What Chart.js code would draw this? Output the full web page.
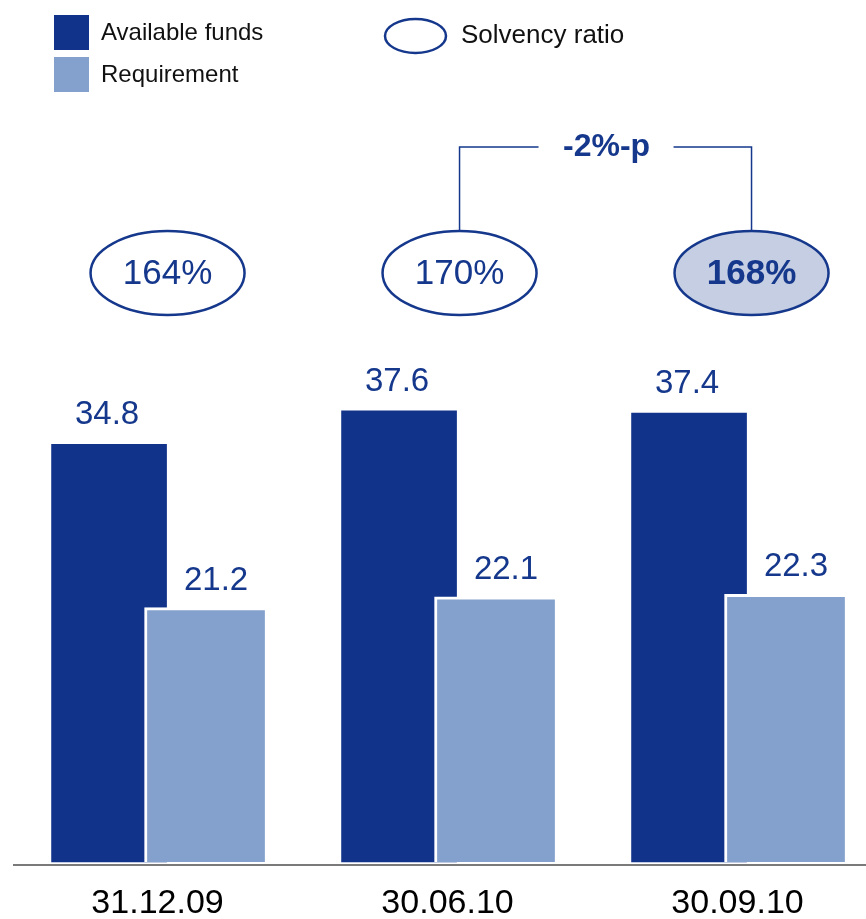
<!DOCTYPE html>
<html>
<head>
<meta charset="utf-8">
<script src="https://cdn.jsdelivr.net/npm/chart.js@4.4.1/dist/chart.umd.min.js"></script>
<style>
  html, body { margin: 0; padding: 0; background: #fff; }
  canvas { display: block; }
</style>
</head>
<body>
<canvas id="chart" width="866" height="919"></canvas>
<script>
const categories = ['31.12.09', '30.06.10', '30.09.10'];
const availableFunds = [34.8, 37.6, 37.4];
const requirement = [21.2, 22.1, 22.3];
const solvencyRatio = [164, 170, 168];
const ratioChange = '-2%-p';

const DARK = '#12338a';
const LIGHT = '#84a0cc';
const INK = '#15388c';
const HIGHLIGHT = '#c5cee2';
const FONT = '"Liberation Sans", Arial, sans-serif';

// both bars of a date sit either side of the tick and overlap a bit
const SHIFT = 0.1672;

const legendBox = {
    id: 'legendBox',
    afterDraw(chart) {
        const { ctx, data } = chart;
        ctx.save();
        ctx.font = '24px ' + FONT;
        ctx.textBaseline = 'middle';
        data.datasets.forEach((ds, i) => {
            const top = 15 + i * 42;
            ctx.fillStyle = ds.backgroundColor;
            ctx.fillRect(54, top, 35, 35);
            ctx.fillStyle = '#111';
            ctx.fillText(ds.label, 101, top + 18);
        });
        ctx.beginPath();
        ctx.ellipse(415.5, 36, 30.5, 17, 0, 0, Math.PI * 2);
        ctx.lineWidth = 2.5;
        ctx.strokeStyle = INK;
        ctx.stroke();
        ctx.font = '26px ' + FONT;
        ctx.fillText('Solvency ratio', 461, 36);
        ctx.restore();
    }
};

const barValues = {
    id: 'barValues',
    afterDatasetsDraw(chart) {
        const { ctx } = chart;
        ctx.save();
        ctx.font = '33px ' + FONT;
        ctx.fillStyle = INK;
        ctx.textAlign = 'center';
        ctx.textBaseline = 'alphabetic';
        chart.data.datasets.forEach((ds, d) => {
            const meta = chart.getDatasetMeta(d);
            const dx = d === 0 ? -2 : 10;
            const gap = d === 0 ? 20 : 18;
            meta.data.forEach((bar, i) => {
                ctx.fillText(ds.data[i].y.toFixed(1), bar.x + dx, bar.y - gap);
            });
        });
        ctx.restore();
    }
};

const solvency = {
    id: 'solvency',
    afterDraw(chart) {
        const { ctx, scales: { x } } = chart;
        const cy = 273;
        const last = solvencyRatio.length - 1;
        const cx = solvencyRatio.map((v, i) => x.getPixelForValue(i) + 10 + i * 2);
        ctx.save();
        ctx.lineWidth = 2.5;
        ctx.strokeStyle = INK;
        ctx.textAlign = 'center';
        ctx.textBaseline = 'middle';
        solvencyRatio.forEach((v, i) => {
            ctx.beginPath();
            ctx.ellipse(cx[i], cy, 77, 42, 0, 0, Math.PI * 2);
            ctx.fillStyle = i === last ? HIGHLIGHT : '#fff';
            ctx.fill();
            ctx.stroke();
            ctx.fillStyle = INK;
            ctx.font = (i === last ? 'bold ' : '') + '35px ' + FONT;
            ctx.fillText(v + '%', cx[i], cy + 1);
        });

        // bracket between the last two ratios
        const a = cx[last - 1], b = cx[last];
        const mid = (a + b) / 2, top = 147, bottom = cy - 42;
        ctx.lineWidth = 1.5;
        ctx.beginPath();
        ctx.moveTo(a, bottom);
        ctx.lineTo(a, top);
        ctx.lineTo(mid - 67, top);
        ctx.moveTo(mid + 68, top);
        ctx.lineTo(b, top);
        ctx.lineTo(b, bottom);
        ctx.stroke();
        ctx.font = 'bold 32px ' + FONT;
        ctx.fillText(ratioChange, mid + 1, top);
        ctx.restore();
    }
};

new Chart(document.getElementById('chart'), {
    type: 'bar',
    data: {
        datasets: [
            {
                label: 'Available funds',
                data: availableFunds.map((v, i) => ({ x: i - SHIFT, y: v })),
                backgroundColor: DARK,
                barThickness: 115,
                grouped: false,
                order: 1
            },
            {
                label: 'Requirement',
                data: requirement.map((v, i) => ({ x: i + SHIFT, y: v })),
                backgroundColor: LIGHT,
                borderColor: '#fff',
                borderWidth: 3,
                barThickness: 123,
                grouped: false,
                order: 0
            }
        ]
    },
    options: {
        responsive: false,
        animation: false,
        layout: { padding: { top: 22, left: 14, right: 0, bottom: 0 } },
        plugins: {
            legend: { display: false },
            tooltip: { enabled: false }
        },
        scales: {
            x: {
                type: 'linear',
                offset: false,
                min: -0.495,
                max: 2.443,
                grid: { display: false, drawTicks: false },
                border: { display: true, color: '#7a7a7a', width: 2 },
                ticks: {
                    stepSize: 1,
                    includeBounds: false,
                    autoSkip: false,
                    maxRotation: 0,
                    padding: 18,
                    color: '#000',
                    font: { family: FONT, size: 34 },
                    callback: v => categories[v] ?? ''
                },
                afterFit(scale) {
                    scale.height = 54;
                }
            },
            y: {
                display: false,
                min: -0.25,
                max: 70
            }
        }
    },
    plugins: [legendBox, barValues, solvency]
});
</script>
</body>
</html>
